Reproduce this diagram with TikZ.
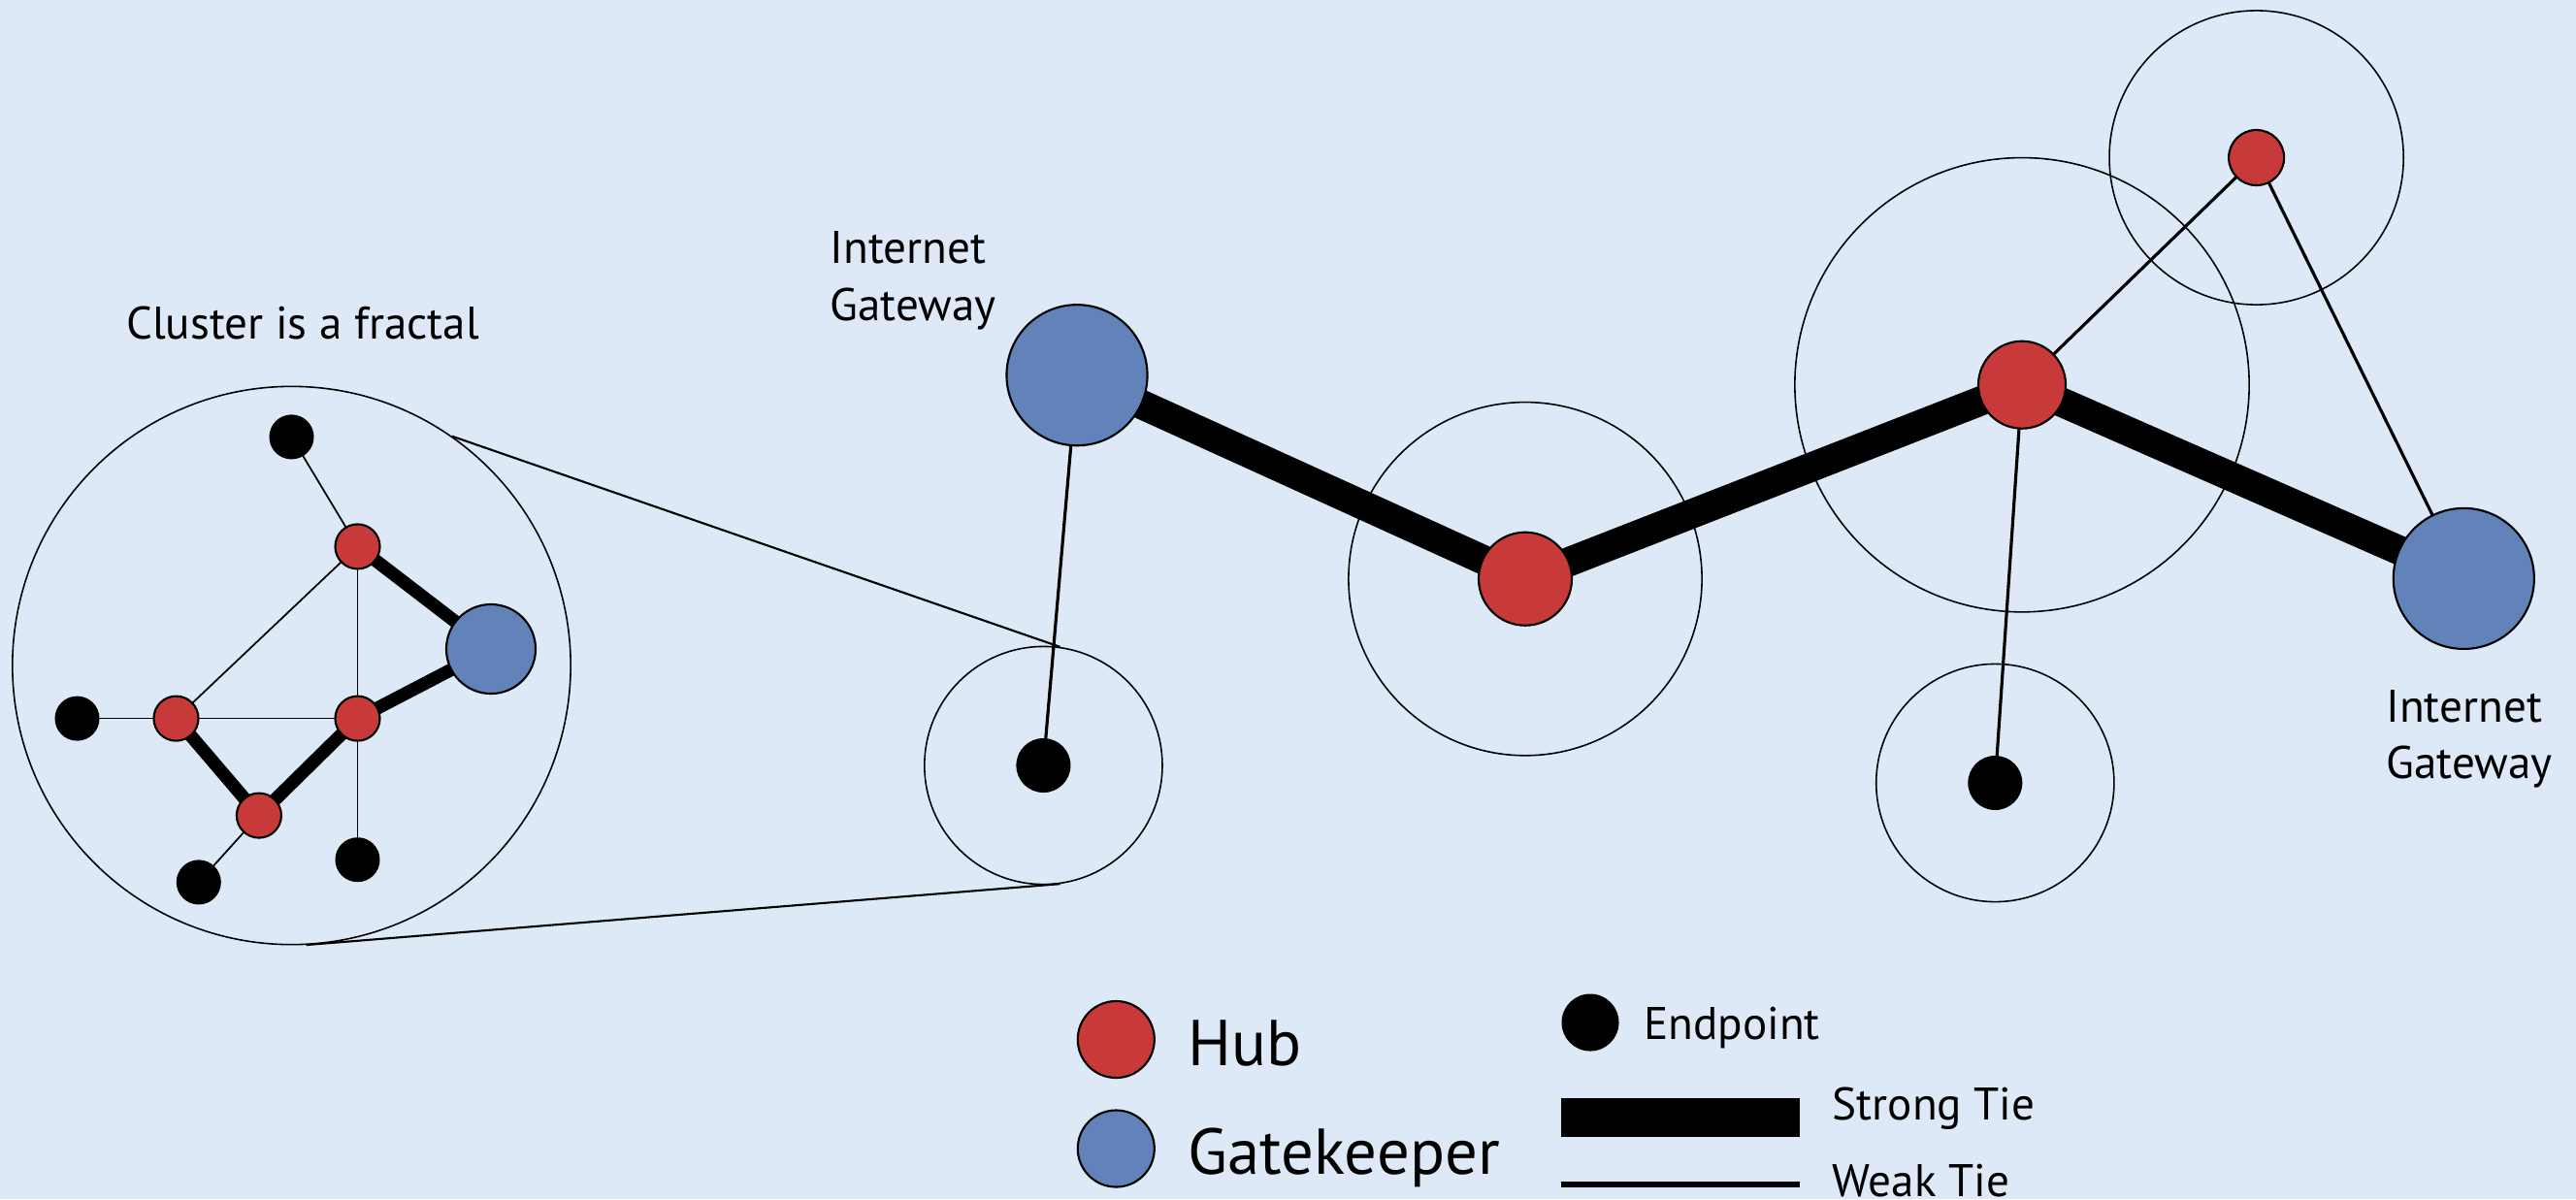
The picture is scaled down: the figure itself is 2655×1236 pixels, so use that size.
\documentclass[tikz,border=0pt]{standalone}
\usepackage{fontspec}
\setmainfont{PT Sans}

\definecolor{bgblue}{RGB}{221,233,246}
\definecolor{hubred}{RGB}{200,57,58}
\definecolor{gateblue}{RGB}{98,130,186}

\newcommand{\lblfont}{\fontsize{13.4pt}{16.6pt}\selectfont}
\newcommand{\bigfont}{\fontsize{19pt}{23pt}\selectfont}

\pgfdeclarelayer{back}
\pgfdeclarelayer{ties}
\pgfsetlayers{back,ties,main}

\tikzset{
  hub/.style={circle, draw, fill=hubred, line width=0.6pt, inner sep=0pt, minimum size=#1},
  gate/.style={circle, draw, fill=gateblue, line width=0.6pt, inner sep=0pt, minimum size=#1},
  endpt/.style={circle, fill=black, inner sep=0pt, minimum size=#1},
  ring/.style={circle, draw, line width=0.45pt, inner sep=0pt, minimum size=#1},
  strong/.style={line width=8.6pt},
  weak/.style={line width=0.9pt},
  cstrong/.style={line width=3.8pt},
  cweak/.style={line width=0.5pt},
  lbl/.style={inner sep=0pt, font=\lblfont},
}

\begin{document}
\begin{tikzpicture}[x=0.01cm, y=-0.01cm]
\begin{pgfonlayer}{back}
\fill [bgblue] (0,0) rectangle (2655,1236);
\end{pgfonlayer}
\useasboundingbox (0,0) rectangle (2655,1236);

% cluster
\node [lbl, anchor=base] (title) at (312,349) {Cluster is a fractal};
\node [ring=5.75cm] (cring) at (300.5,686) {};
\node [endpt=0.46cm] (cep1) at (300.5,450.4) {};
\node [hub=0.46cm] (chub1) at (368.5,563.4) {};
\node [gate=0.92cm] (cgate) at (506,669) {};
\node [hub=0.46cm] (chub2) at (368.5,740.6) {};
\node [hub=0.46cm] (chub3) at (181.5,740.6) {};
\node [endpt=0.46cm] (cep2) at (79.5,740.6) {};
\node [hub=0.46cm] (chub4) at (266.9,840.6) {};
\node [endpt=0.46cm] (cep3) at (204.8,909.4) {};
\node [endpt=0.46cm] (cep4) at (368.5,886.2) {};

% network
\node [ring=2.45cm] (ringA) at (1075.4,789) {};
\node [endpt=0.56cm] (epA) at (1075.4,789) {};
\node [gate=1.45cm] (gateL) at (1110,386.7) {};
\node [lbl, anchor=north west, align=left] (gwL) at (855,238) {Internet\\Gateway};
\node [ring=3.64cm] (ringM) at (1572,596.7) {};
\node [hub=0.96cm] (hubM) at (1572,596.7) {};
\node [ring=4.68cm] (ringR) at (2084,396.7) {};
\node [hub=0.90cm] (hubR) at (2084,396.7) {};
\node [ring=3.03cm] (ringT) at (2325.6,162.5) {};
\node [hub=0.57cm] (hubT) at (2325.6,162.5) {};
\node [gate=1.45cm] (gateR) at (2539.3,596.4) {};
\node [lbl, anchor=north west, align=left] (gwR) at (2458.6,710.5) {Internet\\Gateway};
\node [ring=2.45cm] (ringB) at (2056.3,807) {};
\node [endpt=0.56cm] (epB) at (2056.3,807) {};

\draw [line width=0.6pt] (cring.55.8) -- (ringA.82);
\draw [line width=0.6pt] (cring.-87.6) -- (ringA.-82);

\begin{pgfonlayer}{ties}
\draw [cweak] (cep1.center) -- (chub1.center);
\draw [cweak] (chub1.center) -- (chub3.center);
\draw [cweak] (chub1.center) -- (chub2.center);
\draw [cweak] (chub3.center) -- (chub2.center);
\draw [cweak] (cep2.center) -- (chub3.center);
\draw [cweak] (chub4.center) -- (cep3.center);
\draw [cweak] (chub2.center) -- (cep4.center);
\draw [cstrong] (chub1.center) -- (cgate.center);
\draw [cstrong] (chub2.center) -- (cgate.center);
\draw [cstrong] (chub3.center) -- (chub4.center);
\draw [cstrong] (chub4.center) -- (chub2.center);

\draw [strong] (gateL.center) -- (hubM.center);
\draw [strong] (hubM.center) -- (hubR.center);
\draw [strong] (hubR.center) -- (gateR.center);
\draw [weak] (gateL.center) -- (epA.center);
\draw [weak] (hubR.center) -- (hubT.center);
\draw [weak] (hubT.center) -- (gateR.center);
\draw [weak] (hubR.center) -- (epB.center);
\end{pgfonlayer}

% legend
\node [hub=0.79cm] (lhub) at (1150.3,1071.5) {};
\node [inner sep=0pt, font=\bigfont, anchor=base west] (lhubtxt) at (1224,1098.3) {Hub};
\node [gate=0.79cm] (lgate) at (1150.3,1184) {};
\node [inner sep=0pt, font=\bigfont, anchor=base west] (lgatetxt) at (1224,1210) {Gatekeeper};
\node [endpt=0.59cm] (lep) at (1639,1054) {};
\node [lbl, anchor=base west] (leptxt) at (1693.6,1071) {Endpoint};
\fill (1609.3,1132.3) rectangle (1854.5,1171.7);
\node [lbl, anchor=base west] (lstrong) at (1888,1154) {Strong Tie};
\draw [line width=1.6pt] (1609.3,1221) -- (1854.5,1221);
\node [lbl, anchor=base west] (lweak) at (1888,1233) {Weak Tie};
\end{tikzpicture}
\end{document}
